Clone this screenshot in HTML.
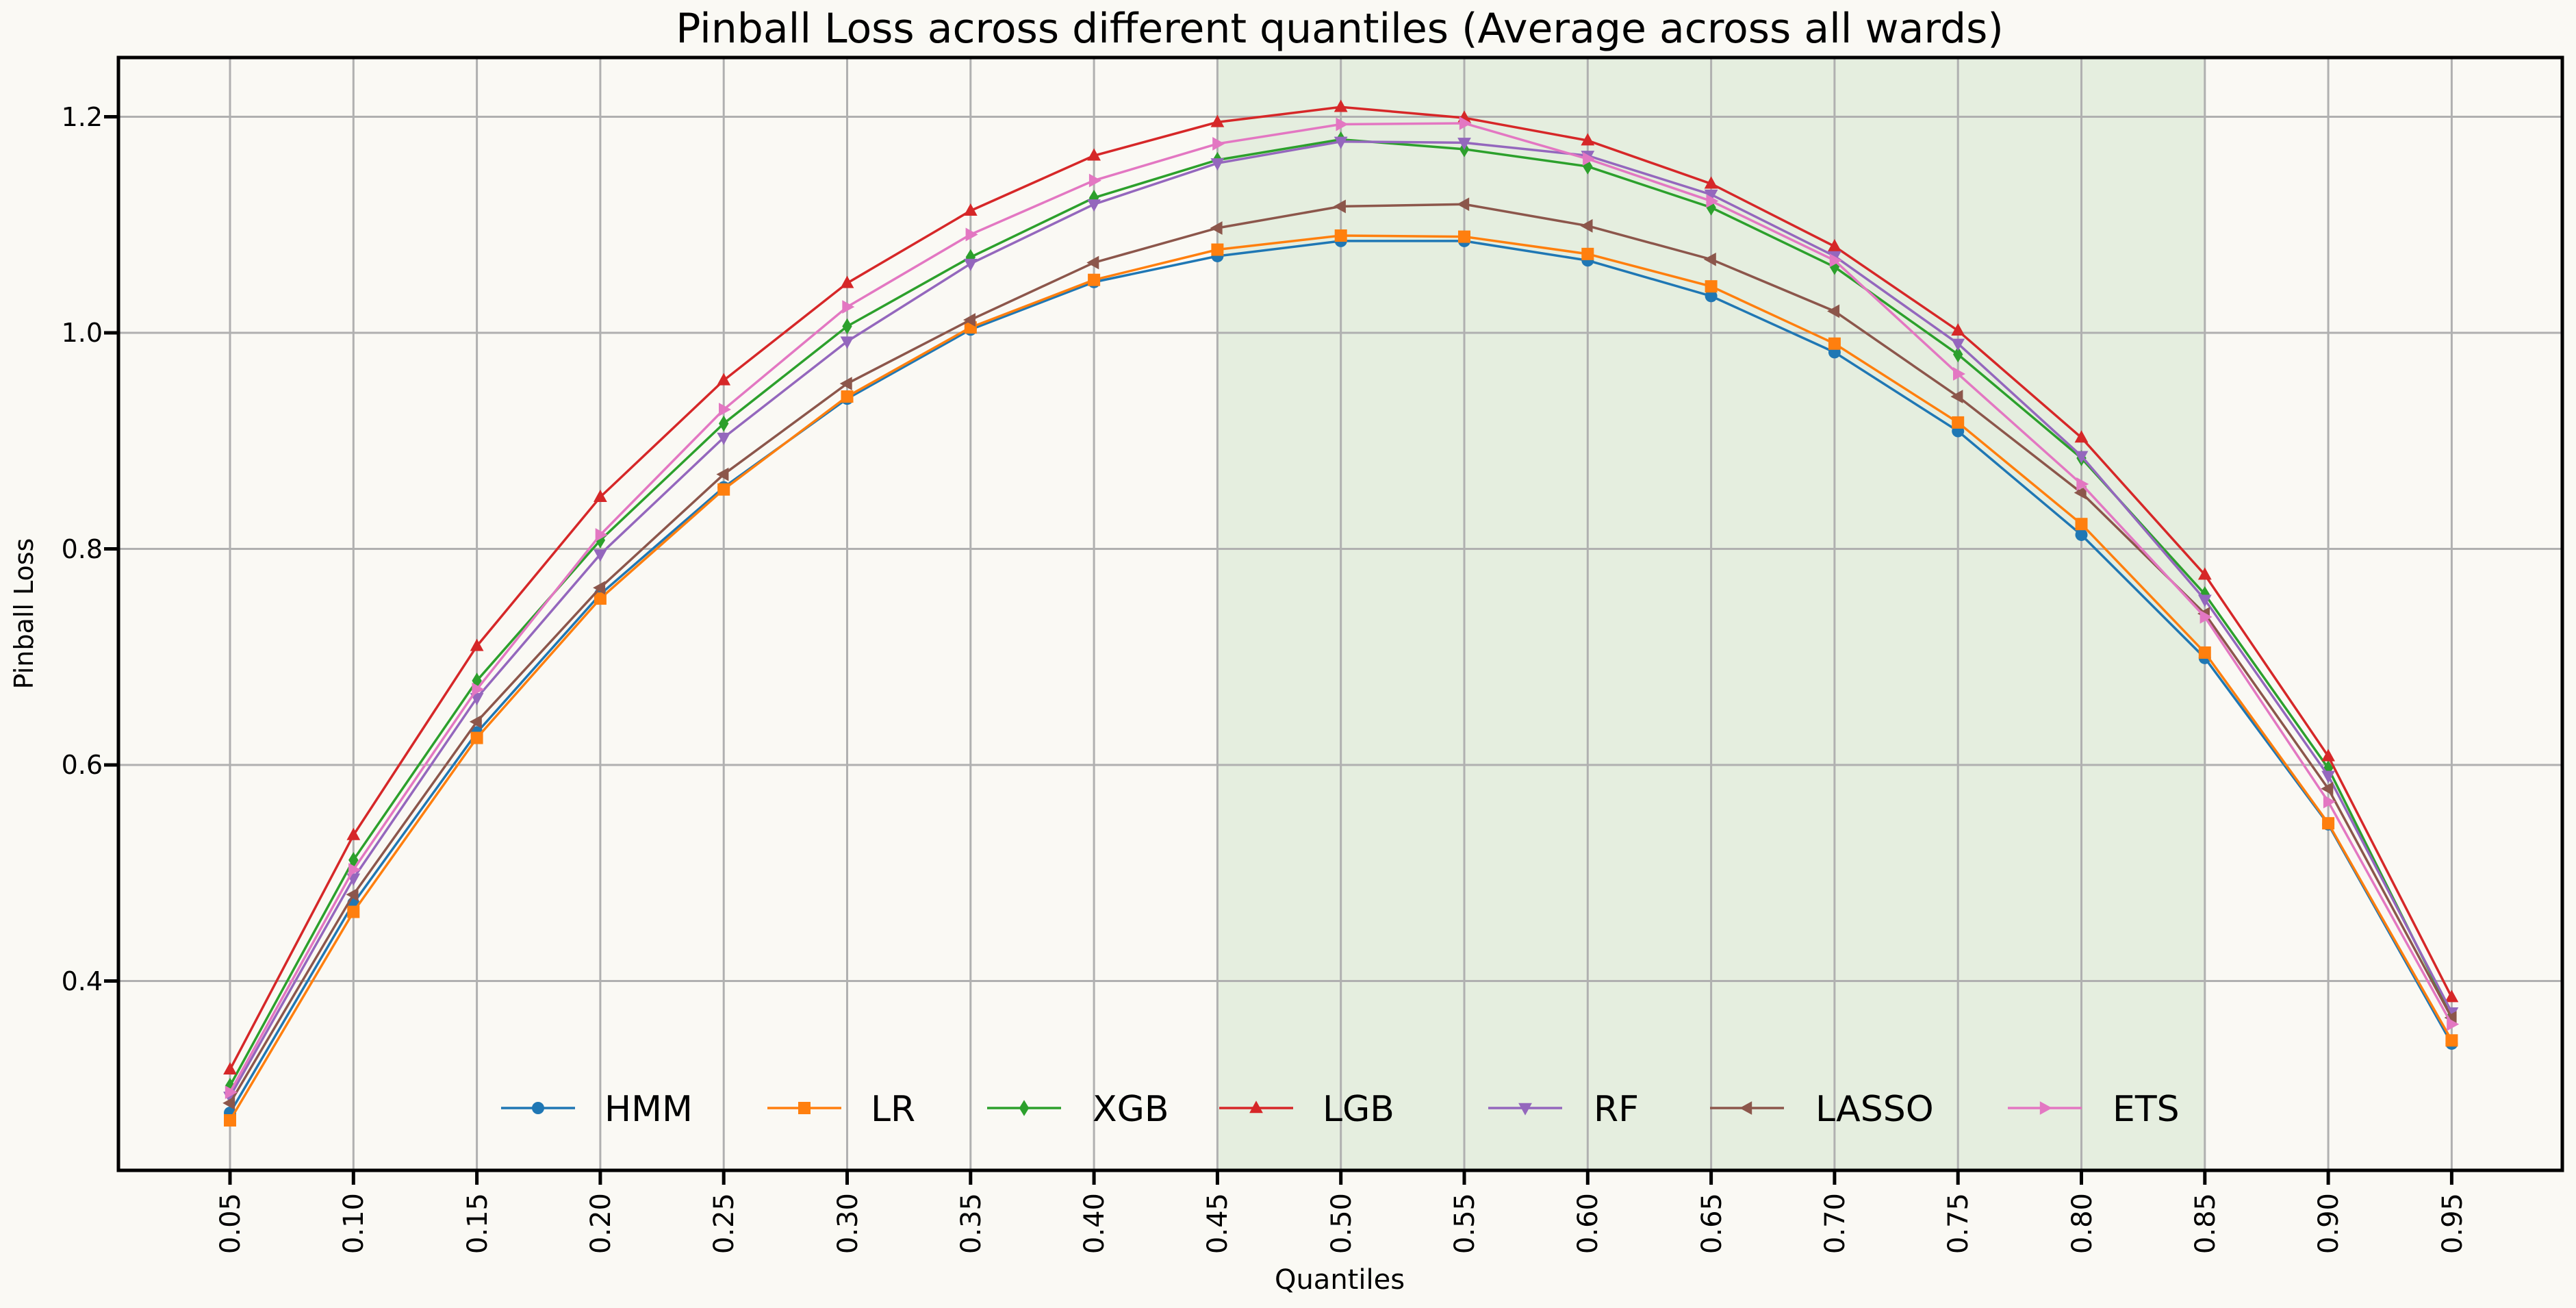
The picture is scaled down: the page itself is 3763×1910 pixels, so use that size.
<!DOCTYPE html>
<html><head><meta charset="utf-8"><style>
html,body{margin:0;padding:0;background:#faf9f4;}
svg{display:block;font-family:"DejaVu Sans","Liberation Sans",sans-serif;}
</style></head><body>
<svg id="s" width="3763" height="1910" viewBox="0 0 3763 1910" xmlns="http://www.w3.org/2000/svg">
<rect x="0" y="0" width="3763" height="1910" fill="#faf9f4"/>
<rect x="1778" y="84" width="1443" height="1625" fill="#e5eedf"/>
<g id="grid" stroke="#b0b0b0" stroke-width="3"></g>
<g id="series"></g>
<g id="legend"></g>
<rect x="173" y="84" width="3570" height="1625" fill="none" stroke="#000" stroke-width="5"/>
<g id="ticks" stroke="#000" stroke-width="5"></g>
<text x="1957" y="62" font-size="60" text-anchor="middle">Pinball Loss across different quantiles (Average across all wards)</text>
<g font-size="38" text-anchor="end">
<text x="150" y="184">1.2</text>
<text x="150" y="499">1.0</text>
<text x="150" y="815">0.8</text>
<text x="150" y="1130">0.6</text>
<text x="150" y="1446">0.4</text>
</g>
<text transform="translate(48,896) rotate(-90)" font-size="38" text-anchor="middle">Pinball Loss</text>
<text x="1957" y="1882" font-size="40" text-anchor="middle">Quantiles</text>
<g font-size="40" text-anchor="end">
<text transform="translate(350,1742) rotate(-90)">0.05</text>
<text transform="translate(530,1742) rotate(-90)">0.10</text>
<text transform="translate(711,1742) rotate(-90)">0.15</text>
<text transform="translate(891,1742) rotate(-90)">0.20</text>
<text transform="translate(1071,1742) rotate(-90)">0.25</text>
<text transform="translate(1252,1742) rotate(-90)">0.30</text>
<text transform="translate(1432,1742) rotate(-90)">0.35</text>
<text transform="translate(1612,1742) rotate(-90)">0.40</text>
<text transform="translate(1792,1742) rotate(-90)">0.45</text>
<text transform="translate(1973,1742) rotate(-90)">0.50</text>
<text transform="translate(2153,1742) rotate(-90)">0.55</text>
<text transform="translate(2333,1742) rotate(-90)">0.60</text>
<text transform="translate(2514,1742) rotate(-90)">0.65</text>
<text transform="translate(2694,1742) rotate(-90)">0.70</text>
<text transform="translate(2874,1742) rotate(-90)">0.75</text>
<text transform="translate(3055,1742) rotate(-90)">0.80</text>
<text transform="translate(3235,1742) rotate(-90)">0.85</text>
<text transform="translate(3415,1742) rotate(-90)">0.90</text>
<text transform="translate(3596,1742) rotate(-90)">0.95</text>
</g>
<g font-size="52">
<text x="883" y="1637">HMM</text>
<text x="1272" y="1637">LR</text>
<text x="1596" y="1637">XGB</text>
<text x="1932" y="1637">LGB</text>
<text x="2328" y="1637">RF</text>
<text x="2652" y="1637">LASSO</text>
<text x="3086" y="1637">ETS</text>
</g>
</svg>
<script>
var NS="http://www.w3.org/2000/svg";
function X(i){return 336+i*180.3;}
function Y(v){return 486-(v-1)*1577.5;}
function el(t,a,p){var e=document.createElementNS(NS,t);for(var k in a)e.setAttribute(k,a[k]);p.appendChild(e);return e;}
var grid=document.getElementById('grid'),ticks=document.getElementById('ticks');
for(var i=0;i<19;i++){el('line',{x1:X(i),x2:X(i),y1:84,y2:1709},grid);el('line',{x1:X(i),x2:X(i),y1:1709,y2:1730},ticks);}
[1.2,1.0,0.8,0.6,0.4].forEach(function(v){el('line',{x1:173,x2:3743,y1:Y(v),y2:Y(v)},grid);el('line',{x1:152,x2:173,y1:Y(v),y2:Y(v)},ticks);});
var S=[
["#1f77b4","o",[0.278,0.472,0.630,0.758,0.857,0.939,1.003,1.047,1.071,1.085,1.085,1.067,1.034,0.982,0.909,0.813,0.699,0.545,0.342]],
["#ff7f0e","s",[0.271,0.464,0.625,0.754,0.855,0.941,1.005,1.049,1.077,1.090,1.089,1.073,1.043,0.990,0.917,0.823,0.704,0.546,0.345]],
["#2ca02c","d",[0.303,0.512,0.678,0.808,0.916,1.006,1.070,1.125,1.160,1.179,1.170,1.154,1.116,1.061,0.980,0.884,0.758,0.597,0.368]],
["#d62728","^",[0.318,0.535,0.710,0.848,0.956,1.046,1.113,1.164,1.195,1.209,1.199,1.178,1.138,1.080,1.002,0.903,0.776,0.608,0.385]],
["#9467bd","v",[0.293,0.495,0.662,0.795,0.903,0.992,1.064,1.119,1.157,1.177,1.176,1.164,1.128,1.071,0.990,0.886,0.753,0.590,0.371]],
["#8c564b","<",[0.287,0.480,0.640,0.764,0.869,0.953,1.012,1.065,1.097,1.117,1.119,1.099,1.068,1.020,0.941,0.852,0.740,0.578,0.366]],
["#e377c2",">",[0.297,0.503,0.670,0.813,0.929,1.024,1.091,1.141,1.175,1.193,1.194,1.161,1.122,1.067,0.962,0.860,0.737,0.566,0.360]]
];
function marker(m,x,y,c,p,r){r=r||9;var pts;
 if(m=='o')return el('circle',{cx:x,cy:y,r:r,fill:c},p);
 if(m=='s')return el('rect',{x:x-r,y:y-r,width:2*r,height:2*r,fill:c},p);
 if(m=='d')pts=[[x,y-r*1.3],[x+r*0.8,y],[x,y+r*1.3],[x-r*0.8,y]];
 if(m=='^')pts=[[x,y-r*1.2],[x+r*1.1,y+r*0.8],[x-r*1.1,y+r*0.8]];
 if(m=='v')pts=[[x,y+r*1.2],[x+r*1.1,y-r*0.8],[x-r*1.1,y-r*0.8]];
 if(m=='<')pts=[[x-r*1.2,y],[x+r*0.8,y-r*1.1],[x+r*0.8,y+r*1.1]];
 if(m=='>')pts=[[x+r*1.2,y],[x-r*0.8,y-r*1.1],[x-r*0.8,y+r*1.1]];
 return el('polygon',{points:pts.map(function(q){return q.join(',')}).join(' '),fill:c},p);}
var g=document.getElementById('series');
S.forEach(function(s){var d=s[2].map(function(v,i){return X(i)+','+Y(v)}).join(' ');
 el('polyline',{points:d,fill:'none',stroke:s[0],'stroke-width':3.5},g);
 s[2].forEach(function(v,i){marker(s[1],X(i),Y(v),s[0],g);});});
var lg=document.getElementById('legend');
var LX=[732,1121,1442,1781,2174,2498,2933];
S.forEach(function(s,i){el('line',{x1:LX[i],x2:LX[i]+108,y1:1618,y2:1618,stroke:s[0],'stroke-width':3.5},lg);marker(s[1],LX[i]+54,1618,s[0],lg);});
</script>
</body></html>
